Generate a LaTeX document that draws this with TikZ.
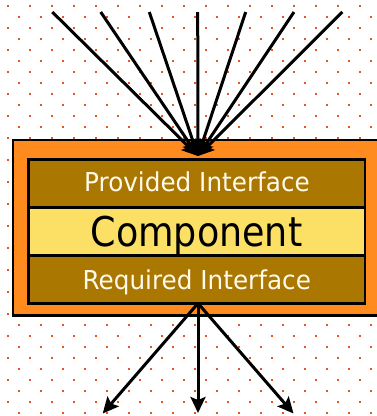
\documentclass[tikz,border=0pt]{standalone}
\usepackage{fontspec}
\usetikzlibrary{arrows.meta}
\newfontfamily\tah[FakeStretch=0.95]{DejaVu Sans}
\newfontfamily\tahc[FakeStretch=0.89]{DejaVu Sans}
\definecolor{dotc}{RGB}{228,88,30}
\definecolor{outerc}{RGB}{255,138,30}
\definecolor{brownc}{RGB}{170,119,0}
\definecolor{yellowc}{RGB}{252,224,102}
\definecolor{textw}{RGB}{255,250,235}
\tikzset{
  dotsq/.style={fill=dotc, draw=none},
  conn/.style={line width=3pt, black, -{Stealth[length=16pt,width=15pt,inset=3pt]}},
  band/.style={draw=black, line width=2.5pt},
  lbl/.style={anchor=base, inner sep=0pt, text=textw, font=\tah\fontsize{26}{30}\selectfont},
}
\begin{document}
\begin{tikzpicture}[x=1pt,y=-1pt]
\useasboundingbox (0,0) rectangle (377,416);
\clip (0,0) rectangle (377,416);
\fill[white] (0,0) rectangle (377,416);
% dot pattern
\foreach \r in {0,...,37}{
  \pgfmathsetmacro{\yy}{5+11*\r}
  \pgfmathsetmacro{\xo}{mod(\r,2)==0 ? 7 : 18}
  \foreach \c in {0,...,17}{
    \fill[dotsq] ({\xo+22*\c-0.3},{\yy-0.3}) rectangle ++(2.6,2.6);
  }
}
% outer box
\draw[fill=outerc, line width=2.6pt] (13,140) rectangle (382,315.5);
% inner bands
\draw[band, fill=brownc] (28.3,159.3) rectangle (365,207.3);
\draw[band, fill=yellowc] (28.3,207.3) rectangle (365,255.7);
\draw[band, fill=brownc] (28.3,255.7) rectangle (365,303.3);
\node[lbl] (prov) at (197,191.7) {Provided Interface};
\node[lbl, text=black, font=\tahc\fontsize{41}{48}\selectfont] (comp) at (196.5,246.7) {Component};
\node[lbl] (req) at (196.8,289.3) {Required Interface};
% connectors
\coordinate (hub) at (198,156);
\coordinate (out) at (198,303.3);
\foreach \i/\x in {1/52.3,2/100.7,3/149.3,4/197.7,5/245.7,6/294,7/342.3}{
  \coordinate (s\i) at (\x,12);
  \draw[conn] (s\i) -- (hub);
}
\coordinate (t1) at (102.7,413.5);
\coordinate (t2) at (198,413);
\coordinate (t3) at (293.5,413.5);
\foreach \i in {1,2,3}{
  \draw[conn] (out) -- (t\i);
}
\end{tikzpicture}
\end{document}
